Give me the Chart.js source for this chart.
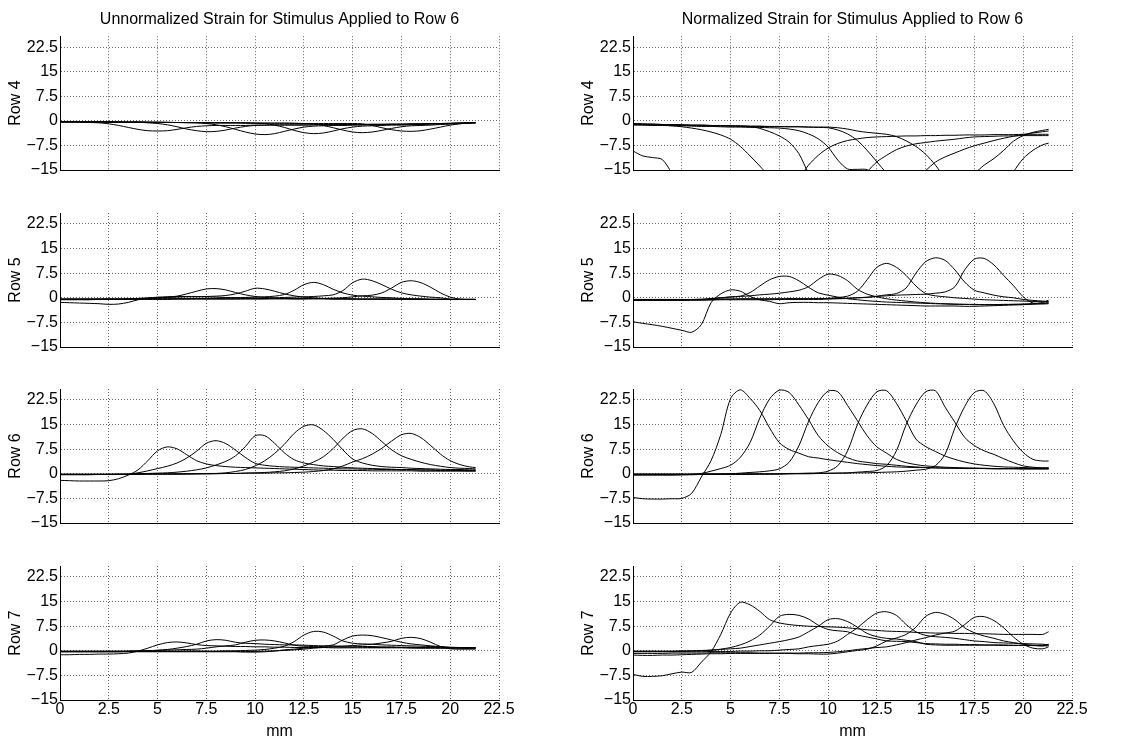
<!DOCTYPE html>
<html>
<head>
<meta charset="utf-8">
<title>Strain for Stimulus Applied to Row 6</title>
<script src="https://cdn.jsdelivr.net/npm/chart.js@4.4.1/dist/chart.umd.min.js"></script>
<style>
  html, body { margin: 0; padding: 0; background: #fff; }
  #figure { position: relative; width: 1148px; height: 742px; overflow: hidden; }
  #figure canvas { position: absolute; }
</style>
</head>
<body>
<div id="figure"></div>
<script>
// sample positions along the row (mm)
const mmPositions = [0,0.5,1,1.5,2,2.5,3,3.5,4,4.5,5,5.5,6,6.5,7,7.5,8,8.5,9,9.5,10,10.5,
                     11,11.5,12,12.5,13,13.5,14,14.5,15,15.5,16,16.5,17,17.5,18,18.5,19,19.5,20,20.5,21,21.3];

const columnTitles = ['Unnormalized Strain for Stimulus Applied to Row 6',
                      'Normalized Strain for Stimulus Applied to Row 6'];
const rowLabels = ['Row 4', 'Row 5', 'Row 6', 'Row 7'];
const xTicks = [0, 2.5, 5, 7.5, 10, 12.5, 15, 17.5, 20, 22.5];
const yTicks = [-15, -7.5, 0, 7.5, 15, 22.5];

// one curve per stimulus position (about 5.5, 7.7, 10.2, 12.8, 15.3, 17.8 mm)
const rawRow4 = [
  [-0.3,-0.3,-0.4,-0.5,-0.6,-0.9,-1.4,-2.0,-2.6,-3.0,-3.1, -3.0,-2.6,-2.1,-1.7,-1.5,-1.4,-1.4,-1.4,-1.4,-1.3,-1.3, -1.3,-1.3,-1.3,-1.3,-1.2,-1.2,-1.2,-1.2,-1.2,-1.1,-1.1, -1.1,-1.0,-1.0,-1.0,-0.9,-0.9,-0.8,-0.8,-0.7,-0.6,-0.6],
  [-0.2,-0.2,-0.2,-0.3,-0.3,-0.3,-0.3,-0.4,-0.4,-0.6,-0.8, -1.2,-1.8,-2.5,-3.0,-3.3,-3.2,-2.8,-2.2,-1.7,-1.4,-1.3, -1.2,-1.2,-1.2,-1.2,-1.2,-1.1,-1.1,-1.1,-1.1,-1.1,-1.0, -1.0,-1.0,-1.0,-0.9,-0.9,-0.8,-0.8,-0.7,-0.7,-0.6,-0.6],
  [-0.2,-0.2,-0.2,-0.2,-0.3,-0.3,-0.3,-0.3,-0.3,-0.4,-0.4, -0.4,-0.5,-0.5,-0.6,-0.8,-1.2,-1.8,-2.6,-3.4,-4.0,-4.2, -3.9,-3.2,-2.5,-1.9,-1.6,-1.5,-1.4,-1.4,-1.3,-1.3,-1.2, -1.2,-1.1,-1.1,-1.0,-1.0,-0.9,-0.9,-0.8,-0.7,-0.6,-0.6],
  [-0.3,-0.3,-0.3,-0.3,-0.3,-0.3,-0.4,-0.4,-0.4,-0.4,-0.4, -0.5,-0.5,-0.5,-0.5,-0.6,-0.6,-0.6,-0.6,-0.6,-0.7,-0.8, -1.3,-2.0,-2.9,-3.6,-3.9,-3.7,-3.1,-2.4,-1.9,-1.6,-1.5, -1.4,-1.3,-1.3,-1.2,-1.1,-1.0,-0.9,-0.8,-0.7,-0.6,-0.5],
  [-0.3,-0.3,-0.3,-0.3,-0.3,-0.4,-0.4,-0.4,-0.4,-0.4,-0.5, -0.5,-0.5,-0.5,-0.5,-0.6,-0.6,-0.6,-0.6,-0.6,-0.7,-0.7, -0.7,-0.7,-0.8,-0.8,-0.9,-1.4,-2.1,-2.8,-3.4,-3.6,-3.4, -2.9,-2.3,-1.8,-1.5,-1.4,-1.3,-1.1,-1.0,-0.8,-0.7,-0.6],
  [-0.4,-0.4,-0.4,-0.4,-0.4,-0.4,-0.5,-0.5,-0.5,-0.5,-0.5, -0.5,-0.5,-0.6,-0.6,-0.6,-0.6,-0.6,-0.6,-0.7,-0.7,-0.7, -0.7,-0.7,-0.7,-0.8,-0.8,-0.8,-0.8,-0.8,-0.8,-0.9,-1.4, -2.1,-2.7,-3.1,-3.2,-3.0,-2.5,-1.9,-1.3,-0.9,-0.6,-0.5]
];

const normRow4 = [
  [-9.2,-10.7,-11.2,-11.8,-16.0,-20.0,-23.0,-25.0,-26.5,-27.5,-28.0, -28.5,-29.0,-29.0,-29.0,-29.0,-28.5,-28.5,-28.0,-28.0,-27.5,-27.5, -27.0,-27.0,-26.5,-26.5,-26.0,-26.0,-25.5,-25.5,-25.0,-25.0,-24.5, -24.5,-24.0,-24.0,-23.5,-23.5,-23.0,-23.0,-22.5,-22.5,-22.0,-22.0],
  [-1.0,-1.1,-1.2,-1.3,-1.5,-1.8,-2.2,-2.7,-3.4,-4.3,-5.6, -7.8,-10.7,-13.8,-17.0,-19.5,-20.0,-17.5,-13.5,-10.5,-8.3,-6.9, -6.0,-5.5,-5.1,-4.9,-4.8,-4.7,-4.6,-4.6,-4.5,-4.5,-4.4, -4.4,-4.3,-4.3,-4.3,-4.2,-4.2,-4.2,-4.1,-4.1,-4.1,-4.1],
  [-0.8,-0.9,-1.0,-1.1,-1.1,-1.2,-1.3,-1.3,-1.4,-1.5,-1.5, -1.6,-1.7,-2.3,-3.3,-4.6,-6.5,-10.0,-16.0,-20.0,-22.0,-22.0, -20.5,-18.0,-15.5,-12.5,-10.5,-8.8,-7.7,-7.0,-6.6,-6.2,-5.9, -5.6,-5.2,-4.9,-4.8,-4.7,-4.6,-4.6,-4.5,-4.5,-4.5,-4.5],
  [-1.3,-1.3,-1.4,-1.4,-1.5,-1.5,-1.6,-1.7,-1.7,-1.8,-1.9, -1.9,-2.0,-2.0,-2.1,-2.2,-2.5,-3.0,-4.0,-5.5,-8.0,-12.0, -14.7,-14.8,-14.9,-17.0,-20.0,-21.0,-20.0,-18.0,-15.2,-12.6,-11.0, -9.8,-8.6,-7.6,-6.8,-6.0,-5.3,-4.7,-4.2,-3.7,-3.3,-3.1],
  [-0.9,-1.0,-1.0,-1.1,-1.2,-1.2,-1.3,-1.3,-1.4,-1.4,-1.5, -1.5,-1.6,-1.6,-1.7,-1.7,-1.8,-1.8,-1.9,-2.0,-2.1,-2.8, -4.0,-6.0,-9.0,-12.5,-16.0,-19.0,-21.0,-22.0,-22.0,-21.0,-20.0, -19.0,-17.5,-16.0,-13.5,-11.5,-9.0,-6.2,-4.5,-3.5,-2.9,-2.6],
  [-1.1,-1.2,-1.2,-1.3,-1.3,-1.4,-1.4,-1.5,-1.5,-1.6,-1.6, -1.7,-1.7,-1.7,-1.8,-1.8,-1.8,-1.8,-1.9,-1.9,-1.9,-2.1, -2.5,-3.1,-3.5,-3.8,-4.1,-4.8,-6.1,-7.8,-10.2,-13.5,-17.5, -20.0,-22.0,-23.0,-23.0,-22.0,-19.5,-15.5,-11.5,-9.0,-7.3,-6.8]
];

const rawRow5 = [
  [-1.4,-1.5,-1.6,-1.7,-1.8,-2.0,-1.9,-1.4,-0.6,-0.1,0.2, 0.3,0.4,0.4,0.4,0.3,0.2,0.1,0.0,-0.1,-0.2,-0.2, -0.3,-0.3,-0.3,-0.3,-0.3,-0.3,-0.3,-0.3,-0.3,-0.4,-0.4, -0.4,-0.4,-0.4,-0.4,-0.4,-0.5,-0.5,-0.5,-0.5,-0.5,-0.5],
  [-0.4,-0.4,-0.4,-0.4,-0.4,-0.4,-0.4,-0.3,-0.2,-0.1,0.0, 0.2,0.5,1.2,2.0,2.7,2.8,2.4,1.6,0.9,0.4,0.1, -0.1,-0.2,-0.3,-0.3,-0.3,-0.3,-0.4,-0.4,-0.4,-0.4,-0.4, -0.4,-0.4,-0.4,-0.4,-0.5,-0.5,-0.5,-0.5,-0.5,-0.5,-0.5],
  [-0.4,-0.4,-0.4,-0.4,-0.4,-0.4,-0.4,-0.3,-0.2,-0.1,0.0, 0.1,0.2,0.3,0.3,0.4,0.5,0.7,1.2,2.0,2.9,2.7, 2.0,1.2,0.6,0.2,0.0,-0.2,-0.3,-0.3,-0.4,-0.4,-0.4, -0.4,-0.4,-0.4,-0.5,-0.5,-0.5,-0.5,-0.5,-0.5,-0.5,-0.5],
  [-0.4,-0.4,-0.4,-0.4,-0.4,-0.4,-0.4,-0.4,-0.3,-0.3,-0.3, -0.3,-0.3,-0.3,-0.2,-0.2,-0.2,-0.1,0.0,0.1,0.2,0.3, 0.5,1.0,2.3,4.0,4.7,4.0,2.6,1.5,0.8,0.5,0.3, 0.1,0.0,-0.2,-0.3,-0.3,-0.4,-0.4,-0.5,-0.5,-0.5,-0.5],
  [-0.5,-0.5,-0.5,-0.5,-0.5,-0.4,-0.4,-0.4,-0.4,-0.3,-0.3, -0.3,-0.3,-0.3,-0.3,-0.3,-0.3,-0.3,-0.3,-0.2,-0.2,-0.1, 0.0,0.1,0.2,0.3,0.4,0.6,0.9,2.2,4.6,5.7,5.2, 4.0,2.6,1.5,0.9,0.5,0.2,0.0,-0.4,-0.5,-0.5,-0.5],
  [-0.6,-0.6,-0.6,-0.6,-0.5,-0.5,-0.5,-0.5,-0.5,-0.5,-0.5, -0.5,-0.4,-0.4,-0.4,-0.4,-0.4,-0.4,-0.4,-0.4,-0.4,-0.4, -0.3,-0.3,-0.3,-0.3,-0.2,-0.2,-0.1,0.0,0.3,0.6,0.8, 1.5,3.0,4.7,5.2,4.6,3.2,1.5,0.2,-0.4,-0.5,-0.5]
];

const normRow5 = [
  [-7.3,-7.8,-8.2,-8.7,-9.3,-9.9,-10.5,-8.2,-1.5,1.2,2.4, 2.0,0.4,-0.6,-1.1,-1.8,-1.5,-1.4,-1.4,-1.5,-1.5,-1.6, -1.7,-1.8,-1.9,-2.0,-2.1,-2.2,-2.3,-2.4,-2.5,-2.5,-2.5, -2.5,-2.6,-2.6,-2.5,-2.4,-2.3,-2.2,-2.1,-1.9,-1.7,-1.5],
  [-0.8,-0.8,-0.8,-0.7,-0.7,-0.7,-0.7,-0.6,-0.3,0.0,0.3, 0.5,1.6,3.6,5.5,6.5,6.5,5.2,3.2,1.5,0.8,0.2, -0.3,-0.6,-0.9,-1.1,-1.3,-1.4,-1.5,-1.6,-1.7,-1.8,-1.9, -2.0,-2.0,-2.1,-2.1,-2.1,-2.0,-2.0,-1.9,-1.8,-1.7,-1.6],
  [-0.5,-0.5,-0.5,-0.5,-0.5,-0.5,-0.5,-0.4,-0.2,0.0,0.2, 0.4,0.6,0.9,1.1,1.4,1.8,2.3,3.4,5.6,7.2,6.8, 5.2,2.6,1.1,0.3,-0.3,-0.7,-1.0,-1.3,-1.5,-1.7,-1.8, -1.9,-2.0,-2.0,-2.1,-2.1,-2.1,-2.0,-2.0,-1.9,-1.9,-1.8],
  [-0.6,-0.6,-0.6,-0.6,-0.6,-0.6,-0.6,-0.6,-0.5,-0.4,-0.4, -0.3,-0.3,-0.3,-0.3,-0.3,-0.3,-0.3,-0.3,-0.2,-0.2,0.1, 0.5,2.0,5.5,9.3,10.5,9.3,6.8,3.6,1.3,0.6,0.3, 0.0,-0.2,-0.4,-0.6,-0.7,-0.8,-0.9,-1.0,-1.1,-1.2,-1.2],
  [-0.7,-0.7,-0.7,-0.7,-0.7,-0.7,-0.6,-0.6,-0.5,-0.4,-0.4, -0.4,-0.4,-0.4,-0.4,-0.4,-0.3,-0.3,-0.3,-0.3,-0.2,-0.2, -0.1,0.0,0.1,0.5,0.9,1.3,3.0,7.5,11.0,12.2,11.4, 8.5,4.8,2.3,1.5,0.8,0.3,0.0,-0.5,-0.8,-1.0,-1.1],
  [-0.8,-0.8,-0.8,-0.8,-0.8,-0.8,-0.7,-0.7,-0.7,-0.6,-0.6, -0.6,-0.6,-0.6,-0.6,-0.5,-0.5,-0.5,-0.5,-0.5,-0.4,-0.3, -0.2,0.0,0.2,0.4,0.6,0.8,0.9,1.0,1.1,1.4,1.8, 3.4,8.5,11.8,12.0,10.0,6.8,3.7,0.3,-1.6,-1.4,-0.7]
];

const rawRow6 = [
  [-2.0,-2.1,-2.2,-2.2,-2.2,-2.1,-1.5,-0.4,1.2,4.0,7.0, 8.2,7.6,5.8,4.0,3.0,2.5,2.2,2.0,1.9,1.8,1.7, 1.6,1.5,1.4,1.3,1.2,1.1,1.1,1.0,1.0,1.0,0.9, 0.9,0.9,0.9,0.9,0.8,0.8,0.8,0.8,0.8,0.8,0.8],
  [-0.3,-0.3,-0.3,-0.3,-0.2,-0.2,-0.2,-0.1,0.3,0.9,1.6, 2.3,3.3,4.8,6.9,9.3,10.1,9.2,7.2,5.0,3.2,2.6, 2.3,2.1,2.0,1.9,1.8,1.7,1.6,1.5,1.5,1.4,1.4, 1.3,1.3,1.2,1.2,1.1,1.1,1.0,1.0,1.0,0.9,0.9],
  [-0.2,-0.2,-0.2,-0.2,-0.2,-0.2,-0.1,-0.1,0.0,0.1,0.2, 0.3,0.5,0.8,1.2,1.8,2.7,3.8,5.5,8.3,11.6,11.6, 9.3,6.4,4.3,3.3,2.8,2.4,2.2,2.0,1.8,1.7,1.6, 1.5,1.4,1.3,1.3,1.2,1.2,1.1,1.1,1.0,1.0,1.0],
  [-0.2,-0.2,-0.2,-0.2,-0.2,-0.2,-0.2,-0.2,-0.2,-0.1,-0.1, -0.1,-0.1,-0.1,0.0,0.0,0.1,0.3,0.7,1.3,2.4,4.0, 6.2,9.0,12.3,14.5,14.9,13.2,10.5,7.3,4.5,3.3,2.6, 2.2,2.0,1.9,1.7,1.6,1.5,1.4,1.3,1.3,1.2,1.2],
  [-0.2,-0.2,-0.2,-0.2,-0.2,-0.2,-0.2,-0.2,-0.1,-0.1,-0.1, -0.1,-0.1,0.0,0.0,0.0,0.0,0.1,0.1,0.2,0.3,0.4, 0.6,0.9,1.5,2.4,3.6,5.2,7.7,10.8,13.2,13.7,12.3, 9.8,7.3,5.5,4.4,3.5,2.8,2.3,1.9,1.7,1.6,1.5],
  [-0.1,-0.1,-0.1,-0.1,-0.1,-0.1,-0.1,-0.1,0.0,0.0,0.0, 0.0,0.0,0.0,0.0,0.1,0.1,0.1,0.1,0.2,0.2,0.2, 0.3,0.3,0.4,0.5,0.7,1.0,1.5,2.4,3.6,4.6,6.0, 7.8,10.0,11.9,12.3,11.0,8.6,6.0,4.0,2.8,2.1,1.9]
];

const normRow6 = [
  [-7.2,-7.6,-7.7,-7.7,-7.6,-7.5,-6.0,-1.0,4.0,12.0,22.9, 25.6,23.0,19.3,14.0,9.5,7.4,6.3,5.2,4.8,4.3,3.9, 3.5,3.1,2.8,2.5,2.3,2.1,2.0,1.9,1.9,1.8,1.8, 1.7,1.7,1.7,1.6,1.6,1.6,1.6,1.5,1.5,1.5,1.5],
  [-0.4,-0.4,-0.4,-0.4,-0.4,-0.3,-0.2,0.1,0.8,1.6,2.6, 5.0,9.5,17.0,22.8,25.5,24.8,21.0,16.5,11.6,8.5,6.4, 4.9,3.9,3.5,3.1,2.9,2.6,2.3,2.1,1.9,1.8,1.7, 1.7,1.6,1.6,1.6,1.5,1.5,1.5,1.5,1.5,1.5,1.5],
  [-0.3,-0.3,-0.3,-0.3,-0.3,-0.3,-0.3,-0.2,-0.2,-0.1,0.0, 0.2,0.4,0.6,0.9,1.5,3.5,8.5,16.0,21.8,25.2,25.0, 20.8,16.2,11.6,8.2,6.3,4.4,3.4,2.8,2.4,2.2,2.0, 1.9,1.8,1.7,1.7,1.6,1.6,1.6,1.6,1.6,1.6,1.6],
  [-0.2,-0.2,-0.2,-0.2,-0.2,-0.2,-0.2,-0.2,-0.2,-0.2,-0.2, -0.2,-0.2,-0.1,-0.1,0.0,0.0,0.1,0.2,0.3,0.8,2.5, 7.0,15.0,21.0,25.0,25.3,21.5,16.2,10.6,8.3,6.8,5.4, 4.4,3.6,3.0,2.6,2.3,2.1,2.0,1.9,1.8,1.8,1.8],
  [-0.1,-0.1,-0.1,-0.1,-0.1,-0.1,-0.1,-0.1,-0.1,-0.1,-0.1, -0.1,-0.1,-0.1,-0.1,-0.1,0.0,0.0,0.0,0.1,0.1,0.2, 0.3,0.5,0.7,1.0,2.5,7.0,15.0,21.0,25.0,25.3,20.3, 15.7,11.1,8.6,7.0,5.9,4.6,3.4,2.4,2.0,1.8,1.8],
  [-0.1,-0.1,-0.1,-0.1,-0.1,-0.1,-0.1,0.0,0.0,0.0,0.0, 0.0,0.0,0.0,0.0,0.0,0.1,0.1,0.1,0.1,0.2,0.2, 0.2,0.3,0.3,0.4,0.5,0.6,0.8,1.1,1.4,2.5,6.0, 14.0,20.5,24.8,25.3,21.3,14.7,10.0,6.5,4.4,3.9,3.9]
];

const rawRow7 = [
  [-1.2,-1.2,-1.1,-1.1,-1.0,-1.0,-0.9,-0.7,-0.1,0.8,1.8, 2.5,2.7,2.4,1.9,1.6,1.5,1.4,1.3,1.3,1.2,1.2, 1.1,1.1,1.0,1.0,1.0,1.0,0.9,0.9,0.9,0.9,0.9, 0.9,0.9,0.9,0.8,0.8,0.8,0.8,0.8,0.8,0.8,0.8],
  [-0.3,-0.3,-0.3,-0.3,-0.3,-0.3,-0.3,-0.2,-0.1,0.0,0.2, 0.4,0.8,1.3,2.0,3.0,3.4,3.2,2.6,2.3,2.2,2.0, 1.9,1.8,1.8,1.7,1.6,1.5,1.5,1.4,1.4,1.3,1.3, 1.2,1.2,1.1,1.1,1.0,1.0,0.9,0.9,0.9,0.8,0.8],
  [-0.2,-0.2,-0.2,-0.2,-0.2,-0.2,-0.2,-0.1,0.0,0.0,0.1, 0.2,0.3,0.4,0.5,0.8,1.2,1.5,1.8,2.6,3.2,3.3, 3.0,2.4,1.7,1.4,1.3,1.2,1.2,1.1,1.1,1.1,1.0, 1.0,1.0,1.0,1.0,0.9,0.9,0.9,0.9,0.9,0.9,0.9],
  [-0.2,-0.2,-0.2,-0.2,-0.2,-0.2,-0.2,-0.2,-0.2,-0.2,-0.2, -0.2,-0.2,-0.1,-0.1,-0.1,-0.1,0.0,0.0,0.1,0.2,0.4, 0.8,1.4,2.8,4.8,5.9,5.7,4.5,3.0,2.3,2.1,2.0, 1.8,1.7,1.6,1.5,1.4,1.3,1.2,1.1,1.0,1.0,1.0],
  [-0.3,-0.3,-0.3,-0.3,-0.3,-0.3,-0.3,-0.3,-0.3,-0.3,-0.3, -0.3,-0.3,-0.3,-0.3,-0.3,-0.3,-0.3,-0.3,-0.4,-0.4,-0.3, -0.1,0.3,0.5,0.8,1.0,1.4,1.8,3.3,4.5,4.8,4.6, 4.0,3.3,2.6,2.1,1.8,1.5,1.3,1.0,0.9,0.8,0.8],
  [-0.1,-0.1,-0.1,-0.1,-0.1,-0.1,-0.1,-0.1,-0.1,-0.1,-0.1, -0.1,-0.1,-0.1,-0.1,-0.2,-0.2,-0.2,-0.2,-0.2,-0.2,-0.1, 0.0,0.1,0.3,0.5,0.8,1.0,1.2,1.4,1.6,1.8,2.0, 2.4,2.9,3.8,4.1,3.7,2.6,1.3,0.6,0.5,0.5,0.5]
];

const normRow7 = [
  [-7.2,-7.8,-7.8,-7.6,-7.0,-6.5,-6.6,-3.5,-0.3,5.0,11.5, 14.8,14.0,12.0,9.5,8.5,8.0,7.7,7.5,7.4,7.3,7.2, 7.0,6.7,6.4,6.2,6.0,5.9,5.8,5.6,5.5,5.4,5.4, 5.3,5.3,5.2,5.2,5.1,5.0,5.0,5.0,5.0,5.0,5.8],
  [-0.2,-0.2,-0.2,-0.2,-0.2,-0.2,-0.1,0.0,0.2,0.5,1.0, 1.8,3.0,4.8,7.5,10.5,11.1,10.8,9.7,7.8,6.5,6.1, 5.8,4.8,4.2,3.6,3.0,2.9,2.8,2.5,2.2,2.1,2.0, 2.0,1.9,1.9,1.8,1.8,1.8,1.7,1.7,1.6,1.5,1.5],
  [-0.1,-0.1,-0.1,-0.1,-0.1,0.0,0.0,0.1,0.2,0.4,0.6, 0.8,1.3,1.8,2.3,2.8,3.4,4.2,5.8,7.5,9.5,9.8, 8.9,7.2,5.3,4.3,3.8,3.6,3.2,2.8,2.0,1.8,1.7, 1.7,1.7,1.7,1.7,1.7,1.6,1.6,1.6,1.6,1.7,1.8],
  [-0.3,-0.3,-0.3,-0.3,-0.3,-0.3,-0.3,-0.3,-0.2,-0.2,-0.2, -0.1,-0.1,0.0,0.0,0.2,0.4,0.6,1.2,1.6,2.0,3.0, 5.0,7.0,9.5,11.5,11.9,10.8,8.0,5.8,4.7,4.3,4.1, 3.8,3.4,3.0,2.8,2.5,2.4,2.3,2.2,2.1,2.0,1.8],
  [-0.8,-0.8,-0.8,-0.8,-0.7,-0.7,-0.7,-0.7,-0.6,-0.6,-0.6, -0.6,-0.6,-0.7,-0.7,-0.8,-0.8,-0.9,-0.9,-1.0,-1.0,-0.7, -0.3,0.1,0.5,1.5,3.0,3.9,5.0,7.2,10.5,11.7,11.1, 9.5,7.0,5.5,4.5,3.8,3.0,2.5,2.0,1.7,1.5,2.0],
  [-1.3,-1.4,-1.4,-1.3,-1.3,-1.2,-1.1,-1.0,-0.9,-0.9,-0.8, -0.8,-0.8,-0.8,-0.8,-0.7,-0.7,-0.7,-0.6,-0.6,-0.5,-0.3, 0.0,0.4,0.7,1.0,1.2,1.8,2.5,3.3,4.0,4.8,5.4, 6.0,8.0,10.2,10.4,9.2,7.0,4.2,2.0,0.8,0.6,1.2]
];

const panels = [
  { row: 0, col: 0, curves: rawRow4 }, { row: 0, col: 1, curves: normRow4 },
  { row: 1, col: 0, curves: rawRow5 }, { row: 1, col: 1, curves: normRow5 },
  { row: 2, col: 0, curves: rawRow6 }, { row: 2, col: 1, curves: normRow6 },
  { row: 3, col: 0, curves: rawRow7 }, { row: 3, col: 1, curves: normRow7 }
];

// page geometry of the plot areas
const PLOT_W = 439;
const PLOT_H = 134;
const COL_LEFT = [60, 633];
const ROW_TOP = [36, 213, 389, 566];
const Y_AXIS_W = 60;
const GRID_COLOR = 'rgba(0,0,0,0.6)';

Chart.defaults.font.family = '"Liberation Sans", Arial, Helvetica, sans-serif';
Chart.defaults.font.size = 16;
Chart.defaults.color = '#000';

function withMinus(v) {
  return String(v).replace('-', '\u2212');
}

function panelConfig(p) {
  const isTop = p.row === 0;
  const isBottom = p.row === rowLabels.length - 1;
  const gridOpts = { color: GRID_COLOR, lineWidth: 1, drawTicks: false };
  const borderOpts = { color: '#000', width: 1, dash: [1, 2] };

  return {
    type: 'line',
    data: {
      datasets: p.curves.map(values => ({
        data: mmPositions.map((x, i) => ({ x: x, y: values[i] })),
        borderColor: '#000',
        borderWidth: 1,
        pointRadius: 0,
        tension: 0.3,
        fill: false
      }))
    },
    options: {
      responsive: false,
      animation: false,
      devicePixelRatio: 1,
      events: [],
      layout: { padding: { top: 12, right: 24, bottom: 12, left: 0 } },
      plugins: {
        legend: { display: false },
        tooltip: { enabled: false },
        title: {
          display: isTop,
          fullSize: false,   // centre over the plot area, not the canvas
          text: columnTitles[p.col],
          color: '#000',
          font: { size: 16, weight: 'normal' },
          padding: { top: 0, bottom: 7 }
        }
      },
      scales: {
        x: {
          type: 'linear',
          min: 0,
          max: 22.5,
          afterBuildTicks: s => { s.ticks = xTicks.map(v => ({ value: v })); },
          afterFit: s => { s.height = isBottom ? 42 : 0; },
          ticks: { display: isBottom, padding: 0, maxRotation: 0, autoSkip: false, callback: v => String(v) },
          grid: gridOpts,
          border: borderOpts,
          title: { display: isBottom, text: 'mm', padding: { top: 0, bottom: 1 } }
        },
        y: {
          min: -15,
          max: 25.85,
          afterBuildTicks: s => { s.ticks = yTicks.map(v => ({ value: v })); },
          afterFit: s => { s.width = Y_AXIS_W; },
          ticks: { padding: 2, autoSkip: false, callback: v => withMinus(v) },
          grid: gridOpts,
          border: borderOpts,
          title: { display: true, text: rowLabels[p.row], padding: { top: 6, bottom: 0 } }
        }
      }
    }
  };
}

// build a panel, then resize the canvas so its chart area matches the target box
function placePanel(p) {
  const fig = document.getElementById('figure');
  let w = PLOT_W + Y_AXIS_W + 30;
  let h = PLOT_H + 80;
  let canvas = null, chart = null;

  for (let pass = 0; pass < 3; pass++) {
    if (chart) { chart.destroy(); canvas.remove(); }
    canvas = document.createElement('canvas');
    canvas.width = w;
    canvas.height = h;
    canvas.style.width = w + 'px';
    canvas.style.height = h + 'px';
    fig.appendChild(canvas);
    chart = new Chart(canvas, panelConfig(p));
    const a = chart.chartArea;
    const dw = PLOT_W - (a.right - a.left);
    const dh = PLOT_H - (a.bottom - a.top);
    if (Math.abs(dw) < 0.5 && Math.abs(dh) < 0.5) break;
    w += Math.round(dw);
    h += Math.round(dh);
  }

  const area = chart.chartArea;
  canvas.style.left = Math.round(COL_LEFT[p.col] - area.left) + 'px';
  canvas.style.top = Math.round(ROW_TOP[p.row] - area.top) + 'px';
}

panels.forEach(placePanel);
</script>
</body>
</html>
